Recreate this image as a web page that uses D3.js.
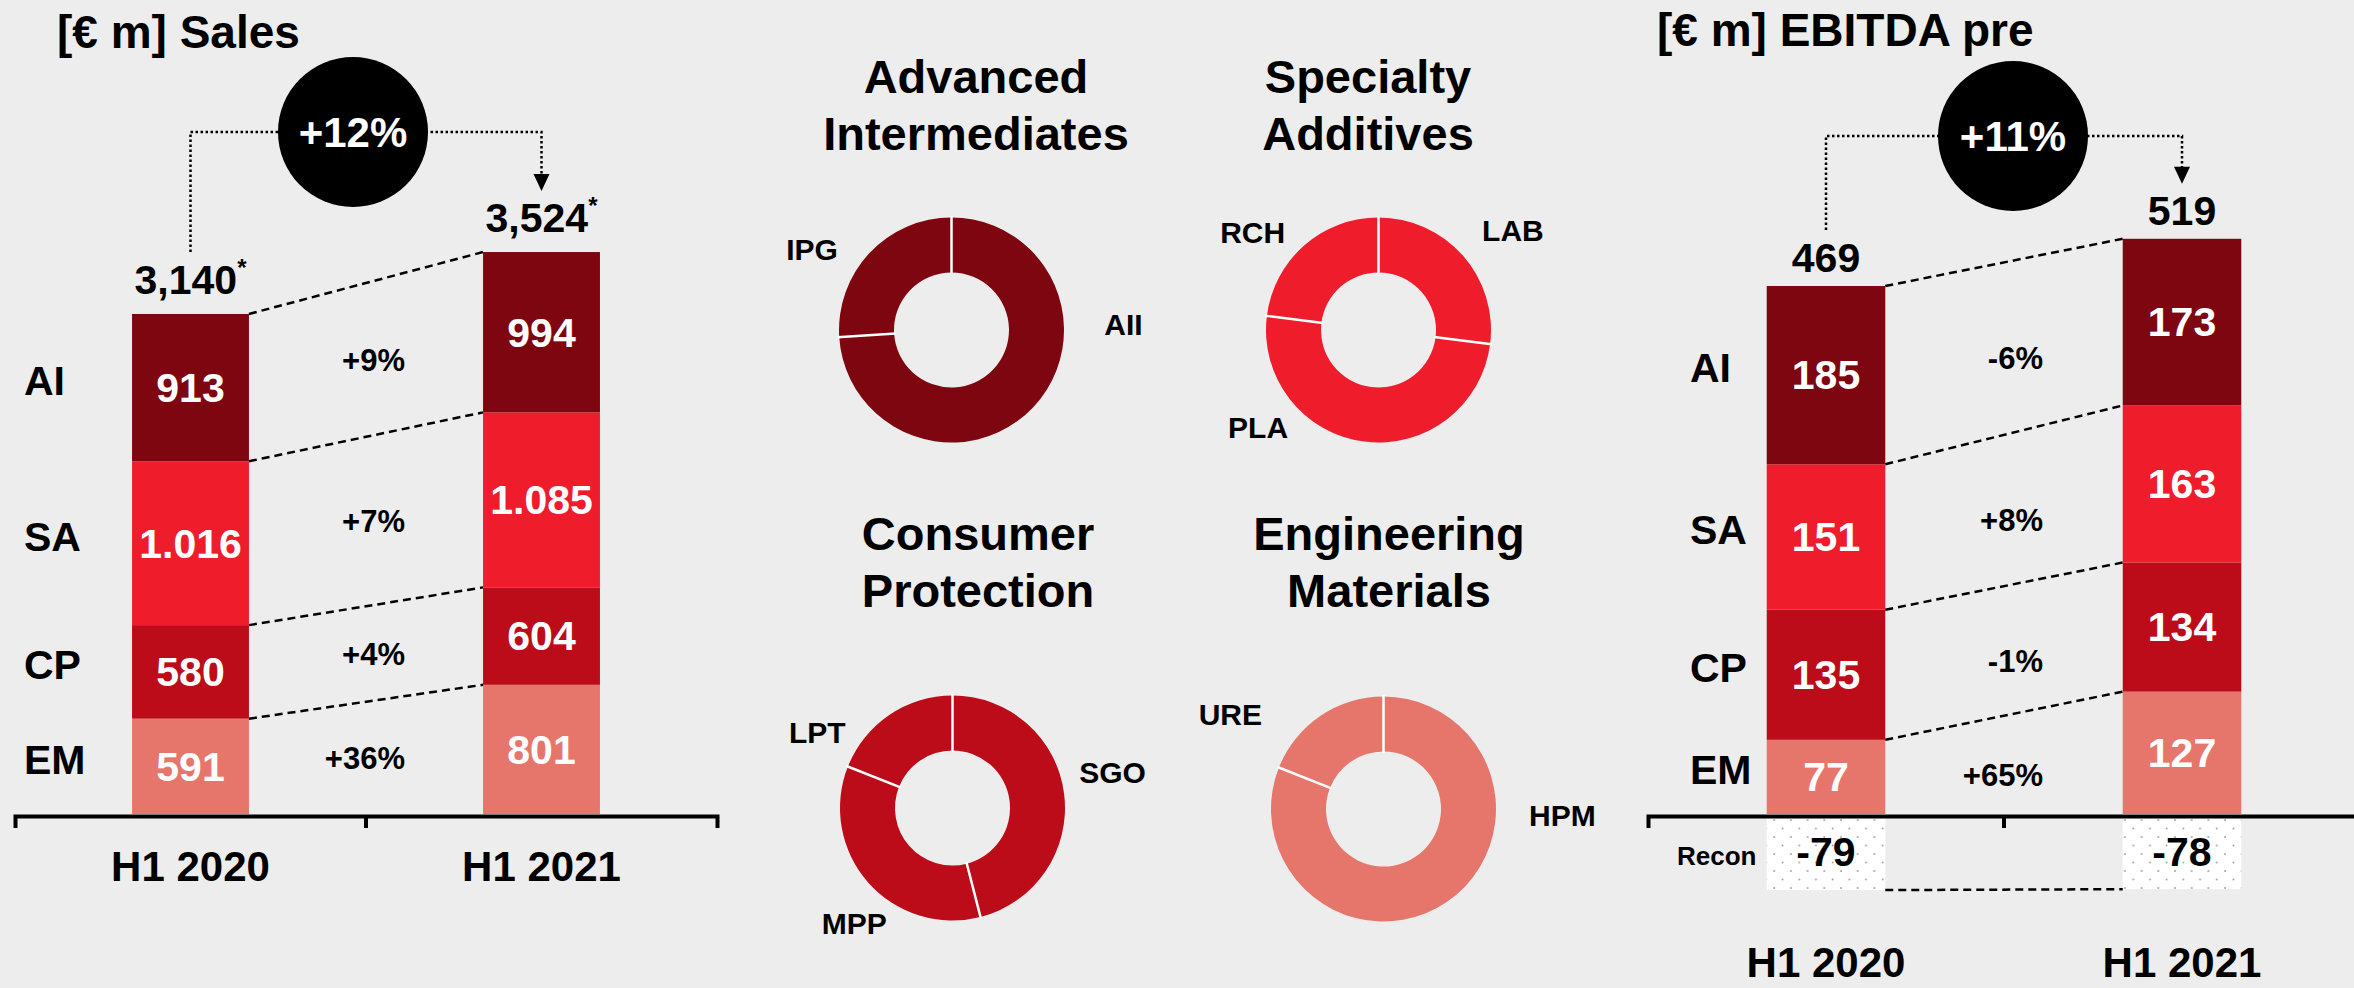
<!DOCTYPE html>
<html>
<head>
<meta charset="utf-8">
<script src="https://cdn.jsdelivr.net/npm/d3@7"></script>
<style>
  html, body { margin: 0; padding: 0; background: #ededed; }
  svg { display: block; font-family: "Liberation Sans", Arial, Helvetica, sans-serif; font-weight: bold; }
</style>
</head>
<body>
<svg id="chart" width="2354" height="988"></svg>
<script>
// ---------------- DATA ----------------
const periods = ["H1 2020", "H1 2021"];
const segments = ["AI", "SA", "CP", "EM"];

const salesValues = [[913, 994], [1016, 1085], [580, 604], [591, 801]]; // per segment, per period
const salesTotals = [3140, 3524];
const salesChanges = ["+9%", "+7%", "+4%", "+36%"];
const salesTotalChange = "+12%";

const ebitdaValues = [[185, 173], [151, 163], [135, 134], [77, 127]];
const ebitdaRecon = [-79, -78];
const ebitdaTotals = [469, 519];
const ebitdaChanges = ["-6%", "+8%", "-1%", "+65%"];
const ebitdaTotalChange = "+11%";

const donutTitles = [["Advanced", "Intermediates"], ["Specialty", "Additives"], ["Consumer", "Protection"], ["Engineering", "Materials"]];
const aiUnits = ["AII", "IPG"];        const aiShares = [74, 26];
const saUnits = ["LAB", "PLA", "RCH"]; const saShares = [27, 50, 23];
const cpUnits = ["SGO", "MPP", "LPT"]; const cpShares = [46, 35, 19];
const emUnits = ["HPM", "URE"];        const emShares = [81, 19];

// ---------------- STYLE / LAYOUT ----------------
const colors = { AI: "#7e0610", SA: "#ef1c2c", CP: "#bc0c1a", EM: "#e6766b" };
const BASE = 814;
const svg = d3.select("#chart");

const defs = svg.append("defs");
const pat = defs.append("pattern").attr("id", "dots").attr("patternUnits", "userSpaceOnUse")
  .attr("width", 16.7).attr("height", 17);
pat.append("rect").attr("width", 16.7).attr("height", 17).attr("fill", "#ffffff");
pat.append("circle").attr("cx", 4).attr("cy", 4).attr("r", 0.9).attr("fill", "#9a9a9a");
pat.append("circle").attr("cx", 12.35).attr("cy", 12.5).attr("r", 0.9).attr("fill", "#9a9a9a");

const fmtTotal = d3.format(",");
const fmtSeg = d3.formatLocale({ decimal: ",", thousands: ".", grouping: [3], currency: ["", ""] }).format(",");

function drawBarChart(cfg) {
  const g = svg.append("g");
  const x = d3.scaleBand().domain(periods).range(cfg.xRange);
  const y = d3.scaleLinear().domain(cfg.yDomain).range(cfg.yRange);
  const bw = x.bandwidth() * 0.333;
  const bx = p => x(p) + (x.bandwidth() - bw) / 2;
  const cx = p => x(p) + x.bandwidth() / 2;

  const rows = periods.map((p, i) => {
    const r = { period: p };
    segments.forEach((s, j) => r[s] = cfg.values[j][i]);
    return r;
  });
  const stacked = d3.stack().keys(segments.slice().reverse())(rows);

  // title
  g.append("text").attr("x", cfg.titleX).attr("y", cfg.titleY).attr("font-size", 46).text(cfg.title);

  // recon (negative bars)
  if (cfg.recon) {
    g.selectAll("rect.recon").data(periods).join("rect").attr("class", "recon")
      .attr("x", p => bx(p)).attr("width", bw)
      .attr("y", y(0)).attr("height", (p, i) => y(cfg.recon[i]) - y(0))
      .attr("fill", "url(#dots)");
    g.append("line")
      .attr("x1", bx(periods[0]) + bw).attr("y1", y(cfg.recon[0]))
      .attr("x2", bx(periods[1])).attr("y2", y(cfg.recon[1]))
      .attr("stroke", "#000").attr("stroke-width", 2.5).attr("stroke-dasharray", "8,5");
    g.selectAll("text.recon").data(periods).join("text").attr("class", "recon")
      .attr("x", p => cx(p)).attr("y", (p, i) => (y(0) + y(cfg.recon[i])) / 2)
      .attr("dy", "0.35em").attr("text-anchor", "middle").attr("font-size", 41)
      .text((p, i) => cfg.recon[i]);
    g.append("text").attr("x", cfg.reconLabelX).attr("y", (y(0) + y(cfg.recon[0])) / 2 + 4)
      .attr("dy", "0.35em").attr("font-size", 26).text("Recon");
  }

  // stacked segments
  stacked.forEach(layer => {
    const key = layer.key;
    g.selectAll(null).data(layer).join("rect")
      .attr("x", d => bx(d.data.period)).attr("width", bw)
      .attr("y", d => y(d[1])).attr("height", d => y(d[0]) - y(d[1]))
      .attr("fill", colors[key]);
    g.selectAll(null).data(layer).join("text")
      .attr("x", d => cx(d.data.period)).attr("y", d => (y(d[0]) + y(d[1])) / 2)
      .attr("dy", "0.35em").attr("text-anchor", "middle").attr("fill", "#fff").attr("font-size", 41)
      .text(d => fmtSeg(d.data[key]));
    // dashed connector between tops
    g.append("line")
      .attr("x1", bx(periods[0]) + bw).attr("y1", y(layer[0][1]))
      .attr("x2", bx(periods[1])).attr("y2", y(layer[1][1]))
      .attr("stroke", "#000").attr("stroke-width", 2.5).attr("stroke-dasharray", "8,5");
    // segment name
    const si = segments.indexOf(key);
    g.append("text").attr("x", cfg.catLabelX).attr("y", (y(layer[0][0]) + y(layer[0][1])) / 2 - 7)
      .attr("dy", "0.35em").attr("font-size", 41).text(key);
    // change label
    const mid = (x(periods[0]) + x.bandwidth() / 2 + bw / 2 + bx(periods[1])) / 2;
    const ym = ((y(layer[0][0]) + y(layer[0][1])) / 2 + (y(layer[1][0]) + y(layer[1][1])) / 2) / 2 + cfg.changeDY;
    g.append("text").attr("x", mid + 39).attr("y", ym).attr("dy", "0.35em")
      .attr("text-anchor", "end").attr("font-size", 31).text(cfg.changes[si]);
  });

  // totals
  const tops = stacked[stacked.length - 1];
  const labelBase = tops.map(d => y(d[1]) - cfg.totalGap);
  periods.forEach((p, i) => {
    const t = g.append("text").attr("x", cx(p)).attr("y", labelBase[i])
      .attr("text-anchor", "middle").attr("font-size", 41).text(cfg.totalFmt(cfg.totals[i]));
    if (cfg.asterisk) t.append("tspan").attr("font-size", 24).attr("dy", -18).text("*");
  });

  // bubble + dotted connector
  const x0 = cx(periods[0]), x1 = cx(periods[1]);
  const bcx = (x0 + x1) / 2 + cfg.bubbleDX;
  const tip = labelBase[1] - 41;
  g.append("path")
    .attr("d", `M${x0},${labelBase[0] - 42}V${cfg.bubbleY}H${x1}V${tip - 16}`)
    .attr("fill", "none").attr("stroke", "#000").attr("stroke-width", 2.5).attr("stroke-dasharray", "2.5,2.5");
  g.append("path").attr("d", `M${x1 - 8},${tip - 17}L${x1 + 8},${tip - 17}L${x1},${tip}Z`).attr("fill", "#000");
  g.append("circle").attr("cx", bcx).attr("cy", cfg.bubbleY).attr("r", 75).attr("fill", "#000");
  g.append("text").attr("x", bcx).attr("y", cfg.bubbleY).attr("dy", "0.35em").attr("text-anchor", "middle")
    .attr("fill", "#fff").attr("font-size", 42).text(cfg.totalChange);

  // axis
  const ax = g.append("g").attr("transform", `translate(0,${BASE + 2})`)
    .call(d3.axisBottom(x).tickSize(0).tickSizeOuter(12).tickPadding(cfg.tickPad));
  ax.select(".domain").attr("stroke", "#000").attr("stroke-width", 4);
  ax.selectAll("text").attr("font-size", 42).attr("font-family", null).attr("font-weight", "bold").attr("fill", "#000");
  ax.attr("font-family", null);
  ax.append("line").attr("x1", x(periods[1])).attr("x2", x(periods[1])).attr("y1", 0).attr("y2", 12)
    .attr("stroke", "#000").attr("stroke-width", 4);
}

drawBarChart({
  title: "[€ m] Sales", titleX: 57, titleY: 48,
  xRange: [15, 717], yDomain: [0, 3600], yRange: [BASE, BASE - 3600 * 0.1613],
  values: salesValues, totals: salesTotals, changes: salesChanges, totalChange: salesTotalChange,
  totalFmt: fmtTotal, asterisk: true, totalGap: 20, catLabelX: 24, changeDY: 0,
  bubbleY: 132, bubbleDX: -13, tickPad: 35
});

drawBarChart({
  title: "[€ m] EBITDA pre", titleX: 1657, titleY: 46,
  xRange: [1648, 2360], yDomain: [0, 600], yRange: [BASE, BASE - 600 * 0.9635],
  values: ebitdaValues, totals: ebitdaTotals, changes: ebitdaChanges, totalChange: ebitdaTotalChange,
  recon: ebitdaRecon, reconLabelX: 1677,
  totalFmt: d => d, asterisk: false, totalGap: 14, catLabelX: 1690, changeDY: 10,
  bubbleY: 136, bubbleDX: 9, tickPad: 131
});

// ---------------- DONUTS ----------------
const donutData = [
  { units: aiUnits, shares: aiShares, color: colors.AI },
  { units: saUnits, shares: saShares, color: colors.SA },
  { units: cpUnits, shares: cpShares, color: colors.CP },
  { units: emUnits, shares: emShares, color: colors.EM }
];
// layout: centers, title positions, label polar placement (degrees clockwise from top, radius)
const donutLayout = [
  { cx: 951.5, cy: 330, titleX: 976, titleY: 93, labels: [[88, 172], [300, 161]] },
  { cx: 1378.5, cy: 330, titleX: 1368, titleY: 93, labels: [[53.6, 167], [231, 155], [307.7, 159]] },
  { cx: 952.5, cy: 808, titleX: 978, titleY: 550, labels: [[77.4, 164], [220.3, 152], [299.3, 155]] },
  { cx: 1383.5, cy: 809, titleX: 1389, titleY: 550, labels: [[92.2, 179], [301.7, 180]] }
];
const pie = d3.pie().sort(null).value(d => d);
const arc = d3.arc().innerRadius(57.5).outerRadius(112.5);

donutData.forEach((dd, k) => {
  const L = donutLayout[k];
  const g = svg.append("g");
  donutTitles[k].forEach((line, li) => {
    g.append("text").attr("x", L.titleX).attr("y", L.titleY + li * 57).attr("text-anchor", "middle")
      .attr("font-size", 47).text(line);
  });
  const dg = g.append("g").attr("transform", `translate(${L.cx},${L.cy})`);
  const arcs = pie(dd.shares);
  dg.selectAll("path").data(arcs).join("path").attr("d", arc).attr("fill", dd.color);
  dg.selectAll("line").data(arcs).join("line")
    .attr("x1", d => 56 * Math.sin(d.startAngle)).attr("y1", d => -56 * Math.cos(d.startAngle))
    .attr("x2", d => 114 * Math.sin(d.startAngle)).attr("y2", d => -114 * Math.cos(d.startAngle))
    .attr("stroke", "#ffffff").attr("stroke-width", 2.5);
  dg.selectAll("text").data(dd.units).join("text")
    .attr("x", (u, i) => L.labels[i][1] * Math.sin(L.labels[i][0] * Math.PI / 180))
    .attr("y", (u, i) => -L.labels[i][1] * Math.cos(L.labels[i][0] * Math.PI / 180))
    .attr("dy", "0.35em").attr("text-anchor", "middle").attr("font-size", 30).text(u => u);
});
</script>
</body>
</html>
